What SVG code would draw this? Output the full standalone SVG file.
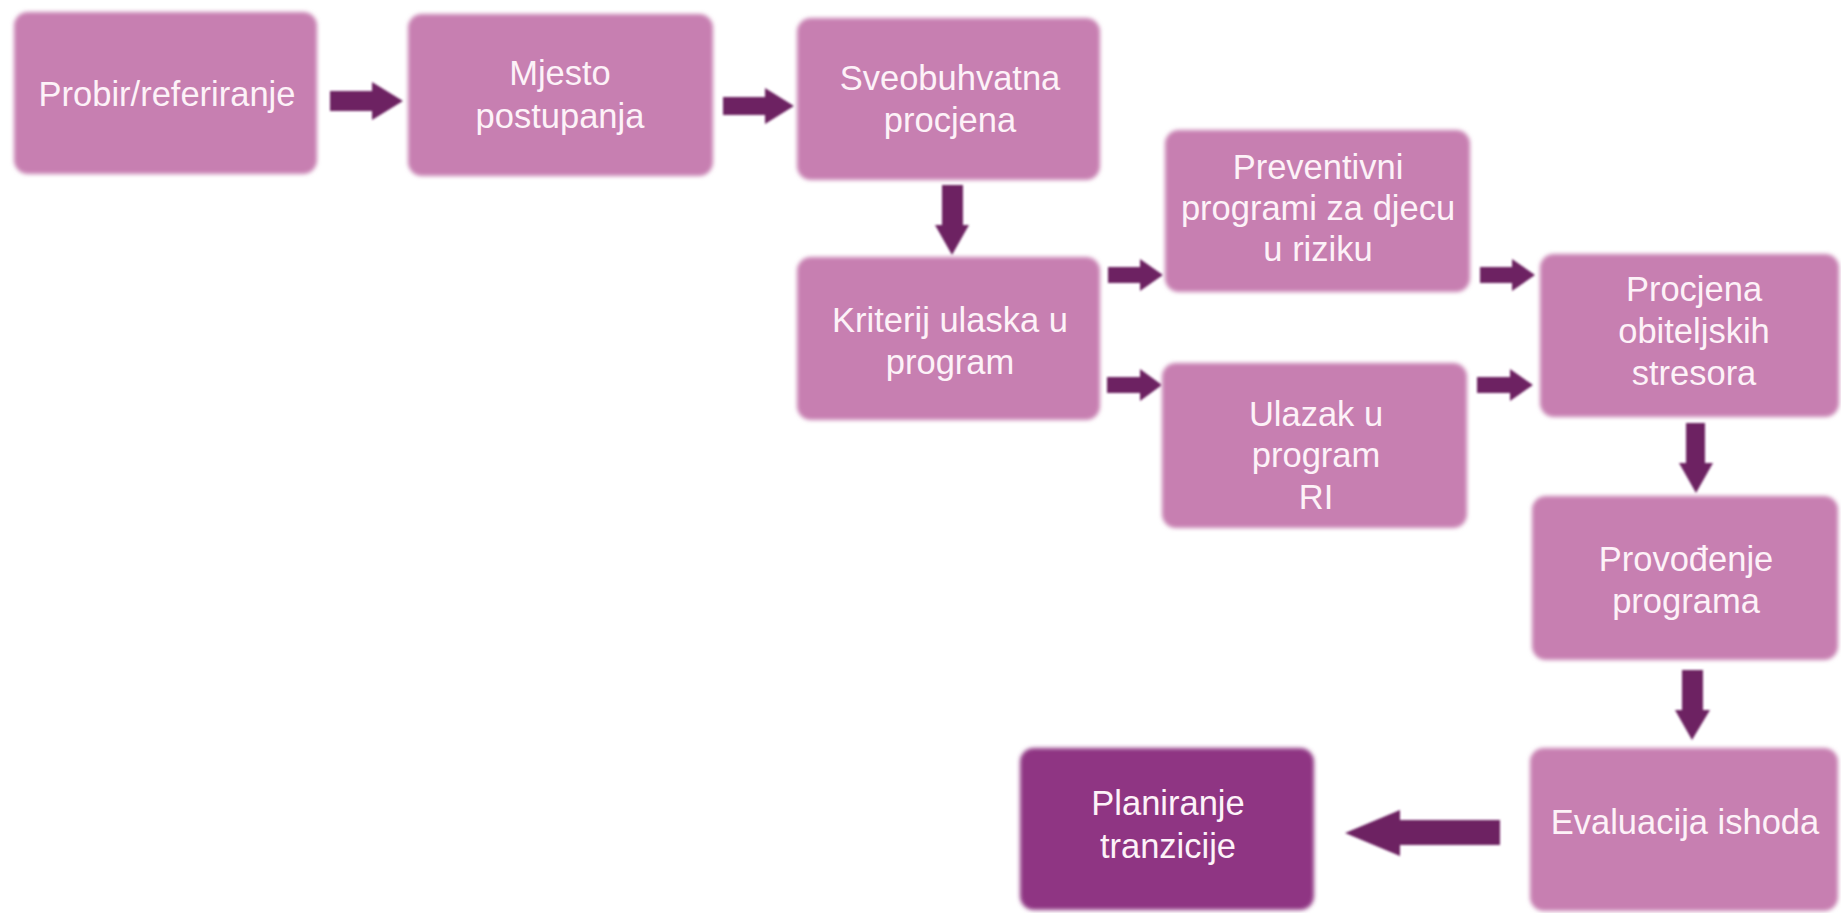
<svg xmlns="http://www.w3.org/2000/svg" width="1841" height="913" viewBox="0 0 1841 913">
<defs>
<filter id="soft" x="-5%" y="-5%" width="110%" height="110%">
<feGaussianBlur stdDeviation="2.2"/>
</filter>
<filter id="softA" x="-10%" y="-10%" width="120%" height="120%">
<feGaussianBlur stdDeviation="1"/>
</filter>
</defs>
<style>
.box{fill:#C77FB1;filter:url(#soft)}
.dark{fill:#8F3683;filter:url(#soft)}
.t{font-family:"Liberation Sans",Arial,sans-serif;font-size:34.5px;fill:#FDF2F8;text-anchor:middle}
.arr{fill:#6D2262;filter:url(#softA)}
</style>
<rect width="1841" height="913" fill="#FFFFFF"/>
<g id="connectors">
<polygon class="arr" points="330,91 372,91 372,82 403,101 372,120 372,111 330,111"/>
<polygon class="arr" points="723,97 765,97 765,88 794,106 765,124 765,115 723,115"/>
<polygon class="arr" points="942,185 963,185 963,225 969,225 952,255 935,225 942,225"/>
<polygon class="arr" points="1108,267 1140,267 1140,259 1163,275 1140,291 1140,283 1108,283"/>
<polygon class="arr" points="1107,377 1140,377 1140,369 1162,385 1140,401 1140,393 1107,393"/>
<polygon class="arr" points="1480,267 1512,267 1512,259 1535,275 1512,291 1512,283 1480,283"/>
<polygon class="arr" points="1477,377 1510,377 1510,369 1533,385 1510,401 1510,393 1477,393"/>
<polygon class="arr" points="1686,423 1705,423 1705,463 1713,463 1696,493 1679,463 1686,463"/>
<polygon class="arr" points="1682,670 1703,670 1703,710 1710,710 1692,740 1675,710 1682,710"/>
<polygon class="arr" points="1500,820 1400,820 1400,810 1345,833 1400,856 1400,845 1500,845"/>
</g>
<g id="n1">
<rect class="box" x="14" y="12" width="303" height="162" rx="14"/>
<text class="t" x="167" y="106">Probir/referiranje</text>
</g>
<g id="n2">
<rect class="box" x="408" y="14" width="305" height="162" rx="14"/>
<text class="t" x="560" y="85">Mjesto</text>
<text class="t" x="560" y="128">postupanja</text>
</g>
<g id="n3">
<rect class="box" x="797" y="18" width="303" height="162" rx="14"/>
<text class="t" x="950" y="90">Sveobuhvatna</text>
<text class="t" x="950" y="132">procjena</text>
</g>
<g id="n4">
<rect class="box" x="797" y="257" width="303" height="163" rx="14"/>
<text class="t" x="950" y="332">Kriterij ulaska u</text>
<text class="t" x="950" y="374">program</text>
</g>
<g id="n5">
<rect class="box" x="1165" y="130" width="305" height="162" rx="14"/>
<text class="t" x="1318" y="179">Preventivni</text>
<text class="t" x="1318" y="220">programi za djecu</text>
<text class="t" x="1318" y="261">u riziku</text>
</g>
<g id="n6">
<rect class="box" x="1162" y="363" width="305" height="165" rx="14"/>
<text class="t" x="1316" y="426">Ulazak u</text>
<text class="t" x="1316" y="467">program</text>
<text class="t" x="1316" y="509">RI</text>
</g>
<g id="n7">
<rect class="box" x="1540" y="254" width="299" height="163" rx="14"/>
<text class="t" x="1694" y="301">Procjena</text>
<text class="t" x="1694" y="343">obiteljskih</text>
<text class="t" x="1694" y="385">stresora</text>
</g>
<g id="n8">
<rect class="box" x="1532" y="496" width="306" height="164" rx="14"/>
<text class="t" x="1686" y="571">Provođenje</text>
<text class="t" x="1686" y="613">programa</text>
</g>
<g id="n9">
<rect class="box" x="1530" y="748" width="308" height="163" rx="14"/>
<text class="t" x="1685" y="834">Evaluacija ishoda</text>
</g>
<g id="n10">
<rect class="dark" x="1020" y="748" width="294" height="162" rx="14"/>
<text class="t" x="1168" y="815">Planiranje</text>
<text class="t" x="1168" y="858">tranzicije</text>
</g>
</svg>
